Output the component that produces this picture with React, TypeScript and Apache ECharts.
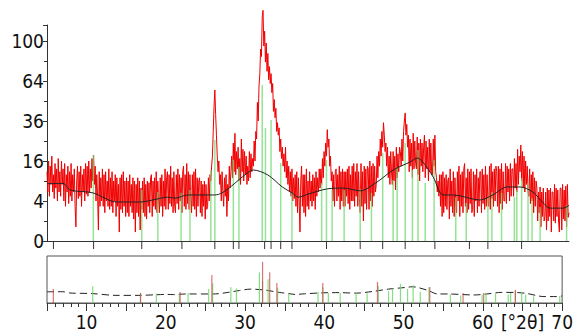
import React, { useEffect, useRef } from "react";
import * as echarts from "echarts";

// Measured XRD pattern (intensity, counts shown on a square-root axis), 0.1° steps
const START_ANGLE = 5.0;
const STEP_ANGLE = 0.1;
const intensity = [
  12, 6, 16, 5, 14, 8, 18, 6, 11, 4.5, // 5
  15, 7, 13, 4, 17, 6, 12, 5, 16, 8, // 6
  13, 4, 15, 3, 11, 6, 14, 3.5, 12, 5, // 7
  15, 4, 11, 6, 13, 3, 0.5, 9, 14, 4.5, // 8
  12, 5, 14, 3, 11, 6, 13, 4, 15, 5.5, // 9
  14, 5, 16, 6, 13, 7, 17, 9, 18.5, 8, // 10
  14, 4, 11, 5, 0.3, 12, 3, 10, 4, 13, // 11
  3, 11, 2, 12, 4, 9, 3, 13, 2.5, 10, // 12
  3, 12, 2, 9, 4, 11, 1.5, 10, 3, 8, // 13
  0.2, 10, 2.5, 11, 2, 12, 3, 9, 1.5, 10, // 14
  2, 9, 1.5, 11, 3, 8, 2, 10, 1.2, 9, // 15
  0.2, 8, 2, 10, 1.5, 9, 0.3, 7, 2.5, 9, // 16
  2, 10, 1.5, 8, 1.2, 9, 3, 8.5, 2, 10, // 17
  11, 1.5, 9, 3, 10, 2.5, 12, 2, 9, 4, // 18
  2, 10, 3, 11, 1.5, 9, 3, 13, 2.5, 10, // 19
  12, 2.5, 11, 3.5, 14, 3, 10, 2, 12, 3, // 20
  2, 11, 3.5, 13, 2.5, 11, 4, 10, 2, 12, // 21
  14, 3, 11, 2.5, 15, 3.5, 12, 2.5, 11, 4, // 22
  2, 11, 3, 12, 2.5, 13, 1.5, 10, 3, 9, // 23
  10, 2, 9, 1.5, 8, 3, 9, 1.2, 8, 2.5, // 24
  3, 10, 4, 11, 9, 14, 18, 30, 45, 57, // 25
  40, 28, 18, 12, 16, 8, 11, 4, 12, 6, // 26
  3, 10, 5, 11, 1.5, 8, 4, 14, 7, 12, // 27
  18, 10, 24, 12, 29, 11, 20, 13, 22, 9, // 28
  17, 8, 26, 12, 21, 9, 20, 11, 18, 8, // 29
  14, 9, 20, 10, 19, 12, 17, 14, 25, 16, // 30
  30, 26, 48, 36, 60, 70, 92, 85, 125, 133, // 31
  95, 110, 80, 98, 72, 88, 65, 76, 62, 70, // 32
  55, 62, 42, 50, 38, 44, 30, 35, 28, 32, // 33
  20, 26, 17, 22, 14, 19, 12, 22, 10, 16, // 34
  8, 14, 6, 12, 5, 13, 4, 10, 4.5, 11, // 35
  3, 12, 2, 10, 4, 0.2, 9, 14, 3, 11, // 36
  2, 11, 1.5, 13, 3, 9, 2.5, 12, 4, 9, // 37
  3, 11, 4, 10, 2.5, 12, 5, 10, 6, 13, // 38
  7, 13, 8, 17, 10, 20, 14, 24, 18, 31, // 39
  22, 26, 14, 18, 9, 12, 4, 11, 3, 12, // 40
  13, 4, 11, 5, 14, 2.5, 12, 4, 13, 3, // 41
  12, 3, 12, 5, 13, 3.5, 14, 2.5, 11, 4, // 42
  14, 4, 15, 3, 12, 5, 15, 3, 12, 4.5, // 43
  2, 15, 3, 12, 1, 14, 3.5, 13, 2.5, 14, // 44
  13, 2.5, 16, 4, 14, 3, 15, 5, 14, 6, // 45
  8, 18, 10, 20, 14, 26, 18, 30, 22, 35, // 46
  28, 20, 24, 14, 22, 10, 18, 8, 20, 12, // 47
  8, 20, 9, 18, 6.5, 22, 10, 19, 12, 22, // 48
  20, 14, 26, 16, 30, 36, 41, 28, 34, 22, // 49
  28, 12, 26, 14, 24, 10, 29, 13, 25, 15, // 50
  13, 27, 11, 24, 9, 26, 14, 24, 12, 22, // 51
  28, 10, 25, 13, 22, 9, 26, 12, 24, 11, // 52
  11, 26, 14, 28, 12, 10, 6, 9, 5, 11, // 53
  3, 11, 1.5, 12, 2, 10, 3, 11, 2.5, 9, // 54
  10, 1.2, 13, 3, 9, 2, 12, 1.5, 10, 3, // 55
  2, 12, 4, 14, 1.5, 11, 3, 12, 2, 13, // 56
  15, 3, 10, 2, 13, 2.5, 12, 3.5, 13, 2, // 57
  2.5, 12, 1.5, 11, 4, 13, 2, 10, 3, 12, // 58
  12, 2, 13, 3.5, 11, 2.5, 14, 3, 11, 4, // 59
  3, 14, 2.5, 15, 4.5, 12, 3, 13, 4, 14, // 60
  12, 3, 14, 2, 13, 3.5, 15, 2.5, 12, 4, // 61
  4, 15, 3.5, 14, 6, 13, 4, 15, 5, 13, // 62
  13, 5, 17, 7, 15, 6, 21, 8, 18, 12, // 63
  23, 9, 20, 7, 18, 6, 16, 8, 14, 6, // 64
  5, 13, 3.5, 11, 4, 12, 2, 10, 3, 9, // 65
  7, 1, 6, 2, 7.3, 0.5, 6, 1.5, 7, 1, // 66
  1.5, 6, 0.3, 7, 1, 6.5, 1.5, 7, 0.2, 6, // 67
  6, 1, 8, 0.8, 7, 1.5, 6.5, 1, 0.2, 7, // 68
  7, 0.3, 8, 1.2, 6.5, 1, 7.5, 0.5, 8, 1.4, // 69
  2, // 70
];

// Background curve
const bgAngles = [5.0, 7.0, 7.9, 10.7, 13.7, 16.6, 18.7, 20.0, 21.0, 22.5, 25.9, 26.8, 28.0, 29.3, 30.7, 32.5, 34.3, 35.5, 36.3, 37.5, 39.9, 41.9, 44.0, 46.1, 48.1, 50.2, 51.1, 51.8, 53.1, 54.3, 55.6, 58.9, 60.5, 62.3, 63.9, 65.5, 66.8, 67.6, 69.3, 70.0];
const bgValues = [8.2, 8.3, 6.5, 5.8, 3.8, 3.8, 4.4, 4.8, 4.6, 5.3, 5.3, 5.8, 7.6, 10.2, 12.6, 10.9, 7.3, 5.8, 4.8, 5.5, 6.8, 7.0, 6.3, 8.7, 12.6, 15.6, 17.2, 15.6, 10.2, 5.3, 5.3, 4.2, 5.3, 7.3, 7.3, 6.0, 3.6, 2.7, 2.7, 3.2];

// Reference pattern A (green sticks)
const phaseAAngles = [10.77, 16.8, 18.8, 21.7, 22.8, 25.4, 25.9, 28.2, 28.9, 31.8, 32.2, 32.9, 34.1, 35.5, 39.2, 39.8, 40.5, 42.0, 44.0, 45.4, 46.8, 48.1, 48.6, 49.6, 50.5, 51.2, 52.1, 53.2, 55.9, 57.2, 59.9, 60.4, 61.6, 63.2, 63.5, 64.1, 64.9, 65.4, 66.4, 69.7];
const phaseAHeights = [18.5, 6.5, 6, 5.8, 6.5, 12.6, 25.5, 16.4, 13.7, 60.8, 32, 36.6, 15.2, 5.8, 8.4, 16.4, 6.5, 6.5, 6.8, 5.8, 19.4, 9.3, 13.7, 24, 12.6, 20.7, 8.4, 16.4, 4.8, 3.6, 4.8, 6, 5.8, 4.8, 6.5, 9.9, 8.4, 4.5, 2.9, 3.2];

// Reference pattern B (red sticks, lower panel)
const phaseBAngles = [5.8, 16.8, 21.8, 25.8, 32.2, 33.1, 34.0, 39.8, 46.7, 53.3, 57.5, 60.1, 64.1];
const phaseBHeights = [12.7, 6.5, 7.9, 51, 110, 62, 26, 26, 29, 16.7, 6.5, 6.5, 11];

// Peak markers under the upper axis
const markAngles = [5.8, 10.8, 16.8, 21.8, 25.9, 28.2, 28.9, 32.1, 32.9, 34.1, 35.5, 39.8, 44.0, 46.8, 49.6, 53.3, 57.6, 59.9, 64.1];

const FONT = "'Liberation Sans Narrow', 'DejaVu Sans Condensed', 'DejaVu Sans Mono', monospace";

const sq = (v: number) => Math.sqrt(Math.max(v, 0));

export default function App() {
  const ref = useRef<HTMLDivElement>(null);
  useEffect(() => {
    if (!ref.current) return;
    const chart = echarts.init(ref.current, undefined, { renderer: "svg" });

    const trace = intensity.map((v, i) => [+(START_ANGLE + i * STEP_ANGLE).toFixed(2), sq(v)]);
    const bg = bgAngles.map((a, i) => [a, sq(bgValues[i])]);
    const stA = phaseAAngles.map((a, i) => [a, sq(phaseAHeights[i])]);
    const stB = phaseBAngles.map((a, i) => [a, sq(phaseBHeights[i])]);
    const marks = markAngles.map((a) => [a, 0]);

    const stick = (color: string, width: number, opacity: number) =>
      (params: any, api: any) => {
        const p0 = api.coord([api.value(0), 0]);
        const p1 = api.coord([api.value(0), api.value(1)]);
        return {
          type: "line",
          shape: { x1: p0[0], y1: p0[1], x2: p1[0], y2: p1[1] },
          style: { stroke: color, lineWidth: width, opacity },
        };
      };

    chart.setOption({
      animation: false,
      grid: [
        { left: 47, top: 25, width: 522, height: 216 },
        { left: 47, top: 256, width: 522, height: 47, show: true, borderColor: "#555", borderWidth: 1 },
      ],
      xAxis: [
        {
          gridIndex: 0, type: "value", min: 5, max: 70,
          axisLine: { show: true, lineStyle: { color: "#333", width: 1 } },
          axisTick: { show: false }, axisLabel: { show: false }, splitLine: { show: false },
        },
        {
          gridIndex: 1, type: "value", min: 5, max: 70, interval: 5,
          axisLine: { show: true, lineStyle: { color: "#555", width: 1 } },
          axisTick: { show: true, length: 8, lineStyle: { color: "#333" } },
          minorTick: { show: true, splitNumber: 5, length: 4, lineStyle: { color: "#333" } },
          axisLabel: {
            margin: 9, color: "#111", fontSize: 19, fontFamily: FONT,
            formatter: (v: number) => (v % 10 === 0 ? String(v) : v === 65 ? "[°2θ]" : ""),
          },
          splitLine: { show: false },
        },
      ],
      yAxis: [
        {
          gridIndex: 0, type: "value", min: 0, max: 10.8, interval: 2,
          axisLine: { show: true, lineStyle: { color: "#333", width: 1 } },
          axisTick: { show: true, length: 4, lineStyle: { color: "#333" } },
          minorTick: { show: true, splitNumber: 2, length: 3, lineStyle: { color: "#333" } },
          axisLabel: {
            margin: 3, color: "#111", fontSize: 19, fontFamily: FONT,
            formatter: (s: number) => String(Math.round(s * s)),
          },
          splitLine: { show: false },
        },
        { gridIndex: 1, type: "value", min: 0, max: 12, show: false },
      ],
      series: [
        {
          type: "line", xAxisIndex: 0, yAxisIndex: 0, data: trace, showSymbol: false,
          clip: false, lineStyle: { color: "#f00000", width: 1 }, z: 2,
        },
        {
          type: "custom", xAxisIndex: 0, yAxisIndex: 0, data: stA, clip: false,
          renderItem: stick("#72da72", 1.5, 0.75), z: 3,
        },
        {
          type: "line", xAxisIndex: 0, yAxisIndex: 0, data: bg, showSymbol: false, smooth: 0.3,
          lineStyle: { color: "#222", width: 1 }, z: 4,
        },
        {
          type: "custom", xAxisIndex: 0, yAxisIndex: 0, data: marks, clip: false, z: 5,
          renderItem: (params: any, api: any) => {
            const p = api.coord([api.value(0), 0]);
            return {
              type: "line",
              shape: { x1: p[0], y1: p[1] + 1, x2: p[0], y2: p[1] + 8 },
              style: { stroke: "#333", lineWidth: 1 },
            };
          },
        },
        {
          type: "line", xAxisIndex: 1, yAxisIndex: 1, data: bg, showSymbol: false, smooth: 0.3,
          lineStyle: { color: "#222", width: 1, type: [7, 4] }, z: 2,
        },
        {
          type: "custom", xAxisIndex: 1, yAxisIndex: 1, data: stA, clip: false,
          renderItem: stick("#6fd86f", 1.2, 0.85), z: 3,
        },
        {
          type: "custom", xAxisIndex: 1, yAxisIndex: 1, data: stB, clip: false,
          renderItem: stick("#d03a3a", 1.2, 0.7), z: 4,
        },
      ],
    });
    return () => chart.dispose();
  }, []);
  return <div ref={ref} style={{ position: "fixed", left: 0, top: 0, width: 576, height: 332, background: "#fff" }} />;
}
